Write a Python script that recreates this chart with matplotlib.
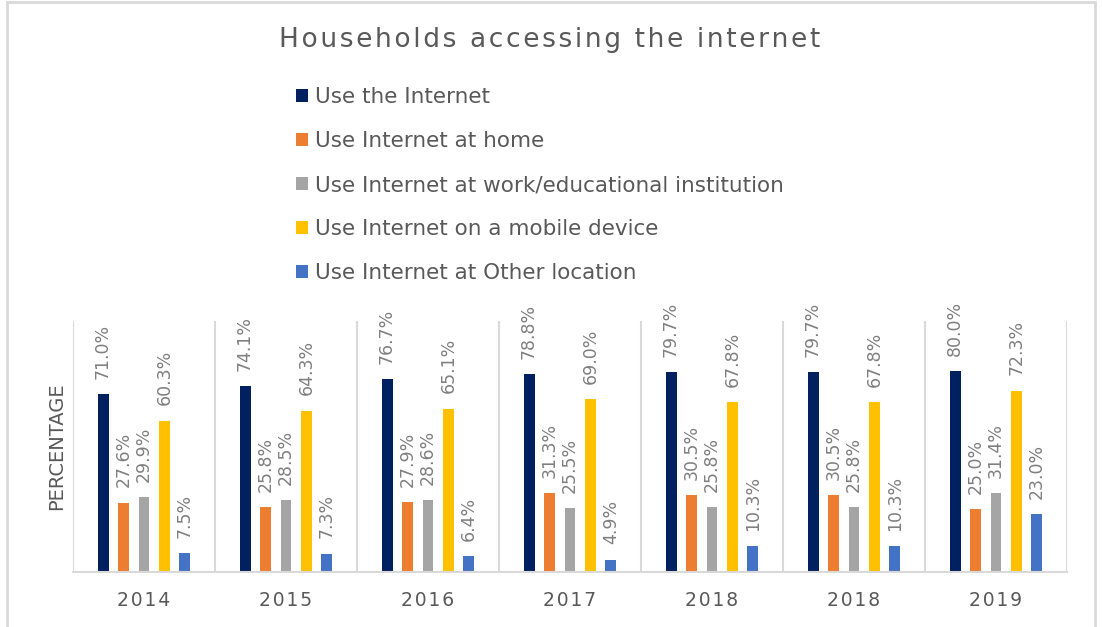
import matplotlib
matplotlib.use('Agg')
import matplotlib.pyplot as plt
import numpy as np

years = ['2014', '2015', '2016', '2017', '2018', '2018', '2019']
series_names = ['Use the Internet',
                'Use Internet at home',
                'Use Internet at work/educational institution',
                'Use Internet on a mobile device',
                'Use Internet at Other location']
use_internet = [71.0, 74.1, 76.7, 78.8, 79.7, 79.7, 80.0]
at_home = [27.6, 25.8, 27.9, 31.3, 30.5, 30.5, 25.0]
at_work = [29.9, 28.5, 28.6, 25.5, 25.8, 25.8, 31.4]
mobile = [60.3, 64.3, 65.1, 69.0, 67.8, 67.8, 72.3]
other = [7.5, 7.3, 6.4, 4.9, 10.3, 10.3, 23.0]
colors = ['#002060', '#ED7D31', '#A5A5A5', '#FFC000', '#4472C4']

text_gray = '#595959'
line_gray = '#D9D9D9'


def spaced(s):
    # fake letter spacing with hair spaces
    return '\u200a'.join(s)


fig = plt.figure(figsize=(11.02, 6.27), dpi=100)
ax = fig.add_axes([73 / 1102, 1 - 572 / 627, 994 / 1102, 251 / 627])

x = np.arange(len(years))
width = 0.077
step = 0.144
all_series = [use_internet, at_home, at_work, mobile, other]
handles = []
for i, vals in enumerate(all_series):
    bars = ax.bar(x + (i - 2) * step, vals, width, color=colors[i], label=series_names[i])
    ax.bar_label(bars, labels=['%.1f%%' % v for v in vals], rotation=90,
                 padding=11, fontsize=12.5, color='#7F7F7F')
    handles.append(bars)

ax.set_xlim(-0.5, len(years) - 0.5)
ax.set_ylim(0, 100)
ax.set_yticks([])
ax.set_xticks(x)
ax.set_xticklabels([spaced(y) for y in years], fontsize=13.5, color=text_gray)
ax.tick_params(axis='x', length=0, pad=14)

# separators between categories
for b in np.arange(-0.5, len(years), 1.0):
    ax.axvline(b, color=line_gray, lw=1.5, zorder=0)
for side in ['top', 'right', 'left']:
    ax.spines[side].set_visible(False)
ax.spines['bottom'].set_color(line_gray)
ax.spines['bottom'].set_linewidth(1.5)

ax.set_ylabel('PERCENTAGE', fontsize=14, color=text_gray)
ax.yaxis.set_label_coords(-0.007, 0.5)

fig.text(550 / 1102, 1 - 40 / 627, spaced('Households accessing the internet'),
         ha='center', va='center', fontsize=19, color=text_gray)

fig.legend(handles, series_names, loc='upper left',
           bbox_to_anchor=(296 / 1102, 1 - 87 / 627), frameon=False,
           fontsize=15.5, labelcolor=text_gray, handlelength=0.55,
           handleheight=0.55, handletextpad=0.35, labelspacing=1.12,
           borderpad=0, borderaxespad=0)

# outer border of the chart area
border = plt.Rectangle((6.5 / 1102, -0.05), (1095 - 6.5) / 1102, 1.05 - 1.5 / 627,
                       transform=fig.transFigure, fill=False, ec=line_gray, lw=2)
fig.patches.append(border)

plt.savefig('out.png', dpi=100)
